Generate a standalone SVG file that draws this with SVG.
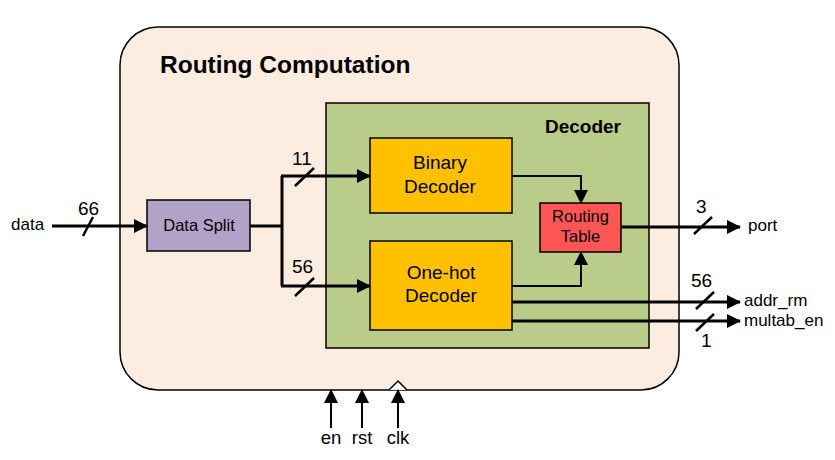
<svg xmlns="http://www.w3.org/2000/svg" width="835" height="460" viewBox="0 0 835 460">
<defs>
<marker id="arr2" markerWidth="14" markerHeight="14" refX="13" refY="7" orient="auto" markerUnits="userSpaceOnUse" viewBox="0 0 14 14">
<path d="M0,0 L14,7 L0,14 z" fill="#000"/>
</marker>
</defs>
<style>
text{font-family:"Liberation Sans",Arial,sans-serif;fill:#000}
.lbl{font-size:17px}
.num{font-size:19px}
.blk{font-size:19px;text-anchor:middle}
.w{stroke:#000;stroke-width:3;fill:none}
.t{stroke:#000;stroke-width:2;fill:none}
.sl{stroke:#000;stroke-width:2.5}
</style>
<rect width="835" height="460" fill="#fff"/>
<g id="routing-computation">
<rect x="120" y="27" width="559" height="363" rx="38" ry="38" fill="#FDECE0" stroke="#000" stroke-width="1.5"/>
<text x="160" y="73" font-size="24.5" font-weight="bold">Routing Computation</text>
<path d="M389,390 L398,381 L407,390" fill="#fff" stroke="#000" stroke-width="1.5"/>
</g>
<g id="decoder">
<rect x="326" y="103" width="323" height="245" fill="#B9CC89" stroke="#000" stroke-width="1.5"/>
<text x="621" y="133" font-size="19" font-weight="bold" text-anchor="end">Decoder</text>
</g>
<g id="data-split">
<rect x="147" y="200" width="103" height="51" fill="#B3A2C7" stroke="#000" stroke-width="1.5"/>
<text x="199" y="231" font-size="16.5" text-anchor="middle">Data Split</text>
</g>
<g id="binary-decoder">
<rect x="370" y="138" width="142" height="75" fill="#FFC000" stroke="#000" stroke-width="1.5"/>
<text class="blk" x="440" y="169">Binary</text>
<text class="blk" x="440" y="192.5">Decoder</text>
</g>
<g id="onehot-decoder">
<rect x="370" y="241" width="142" height="89" fill="#FFC000" stroke="#000" stroke-width="1.5"/>
<text class="blk" x="441" y="279">One-hot</text>
<text class="blk" x="441" y="302">Decoder</text>
</g>
<g id="routing-table">
<rect x="540" y="203" width="81" height="49" fill="#FF5555" stroke="#000" stroke-width="1.5"/>
<text x="580.5" y="222" font-size="16.5" text-anchor="middle">Routing</text>
<text x="580.5" y="242" font-size="16.5" text-anchor="middle">Table</text>
</g>
<g id="connectors">
<text class="lbl" x="11" y="230">data</text>
<line class="w" x1="52" y1="226" x2="147" y2="226" marker-end="url(#arr2)"/>
<line class="sl" x1="83" y1="236" x2="93" y2="217"/>
<text class="num" x="78" y="215">66</text>
<path class="w" d="M250,226 H282 M282,176 V286"/>
<line class="w" x1="281" y1="176" x2="370" y2="176" marker-end="url(#arr2)"/>
<line class="w" x1="281" y1="286" x2="370" y2="286" marker-end="url(#arr2)"/>
<line class="sl" x1="295" y1="186" x2="314" y2="168"/>
<line class="sl" x1="295" y1="296" x2="314" y2="278"/>
<text class="num" x="292" y="165">11</text>
<text class="num" x="292" y="273">56</text>
<path class="t" d="M512,176 H581 V203" marker-end="url(#arr2)"/>
<path class="t" d="M512,286 H581 V252" marker-end="url(#arr2)"/>
<line class="w" x1="621" y1="227" x2="740" y2="227" marker-end="url(#arr2)"/>
<line class="sl" x1="694" y1="234" x2="712" y2="217"/>
<text class="num" x="696" y="213">3</text>
<text class="lbl" x="748" y="231">port</text>
<line class="w" x1="512" y1="302" x2="740" y2="302" marker-end="url(#arr2)"/>
<line class="sl" x1="696" y1="309" x2="714" y2="292"/>
<text class="num" x="691" y="287">56</text>
<text class="lbl" x="744" y="306">addr_rm</text>
<line class="w" x1="512" y1="321" x2="740" y2="321" marker-end="url(#arr2)"/>
<line class="sl" x1="696" y1="331" x2="714" y2="314"/>
<text class="num" x="701" y="347">1</text>
<text class="lbl" x="744" y="326">multab_en</text>
<line class="t" x1="331" y1="428" x2="331" y2="390" marker-end="url(#arr2)"/>
<line class="t" x1="362" y1="428" x2="362" y2="390" marker-end="url(#arr2)"/>
<line class="t" x1="398" y1="428" x2="398" y2="390" marker-end="url(#arr2)"/>
<text x="331" y="444" font-size="18.5" text-anchor="middle">en</text>
<text x="362" y="444" font-size="18.5" text-anchor="middle">rst</text>
<text x="398" y="444" font-size="18.5" text-anchor="middle">clk</text>
</g>
</svg>
